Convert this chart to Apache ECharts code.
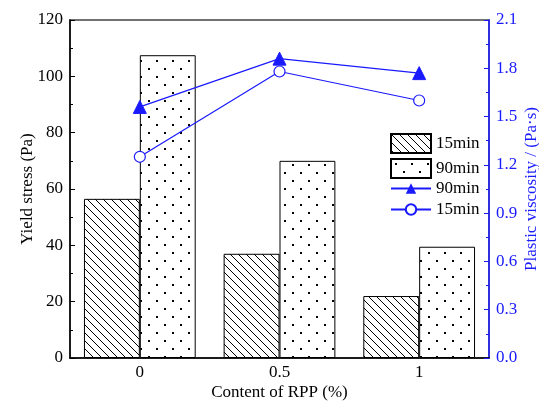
<!DOCTYPE html>
<html>
<head>
<meta charset="utf-8">
<script src="https://cdn.jsdelivr.net/npm/echarts@6/dist/echarts.min.js"></script>
<style>
  html, body { margin: 0; padding: 0; background: #fff; }
  #chart { width: 539px; height: 401px; }
</style>
</head>
<body>
<div id="chart"></div>
<script>
// RPP content categories and measured values
const categories = ['0', '0.5', '1'];
const yield15 = [56.5, 37, 22];
const yield90 = [107.5, 70, 39.5];
const visc90 = [1.56, 1.86, 1.77];
const visc15 = [1.25, 1.78, 1.60];

// fill patterns for the bars
function hatchPattern() {
  const c = document.createElement('canvas');
  c.width = 8; c.height = 8;
  const g = c.getContext('2d');
  g.fillStyle = '#fff'; g.fillRect(0, 0, 8, 8);
  g.strokeStyle = '#000'; g.lineWidth = 1;
  g.beginPath();
  g.moveTo(-1, -1); g.lineTo(9, 9);
  g.moveTo(-5, 3); g.lineTo(5, 13);
  g.moveTo(3, -5); g.lineTo(13, 5);
  g.stroke();
  return c;
}
function dotPattern() {
  const c = document.createElement('canvas');
  c.width = 16; c.height = 16;
  const g = c.getContext('2d');
  g.fillStyle = '#fff'; g.fillRect(0, 0, 16, 16);
  g.fillStyle = '#000';
  g.fillRect(4, 4, 2, 2);
  g.fillRect(12, 12, 2, 2);
  return c;
}

const serif = '"Liberation Serif", "Times New Roman", serif';
const blue = '#1a1aff';
const fs = 17;
const labels = { bar15: '15min', bar90: '90min', line90: '90min', line15: '15min' };
const legendText = { fontFamily: serif, fontSize: fs, color: '#000' };

const chart = echarts.init(document.getElementById('chart'));
chart.setOption({
  animation: false,
  textStyle: { fontFamily: serif },
  grid: {
    left: 70, right: 50, top: 20, bottom: 43,
    outerBoundsMode: 'none', containLabel: false,
    show: true, borderColor: '#444', borderWidth: 1.5
  },
  legend: [{
    orient: 'vertical', left: 390, top: 133,
    itemWidth: 40, itemHeight: 19, itemGap: 4, padding: 0,
    textStyle: legendText, formatter: n => labels[n],
    data: [{ name: 'bar15', icon: 'rect' }, { name: 'bar90', icon: 'rect' }]
  }, {
    orient: 'vertical', left: 390, top: 180,
    itemWidth: 40, itemHeight: 13, itemGap: 4, padding: 0,
    textStyle: legendText, formatter: n => labels[n],
    data: ['line90', 'line15']
  }],
  xAxis: {
    type: 'category', data: categories,
    name: 'Content of RPP (%)', nameLocation: 'middle', nameGap: 26, nameMoveOverlap: false,
    nameTextStyle: { fontSize: fs, color: '#000', fontFamily: serif },
    axisLine: { lineStyle: { color: '#000', width: 1.5 } },
    axisTick: { inside: true, length: 4, lineStyle: { color: '#000' } },
    axisLabel: { fontSize: fs, color: '#000', fontFamily: serif, margin: 6 }
  },
  yAxis: [{
    type: 'value', min: 0, max: 120, interval: 20,
    name: 'Yield stress (Pa)', nameLocation: 'middle', nameGap: 34, nameMoveOverlap: false,
    nameTextStyle: { fontSize: fs, color: '#000', fontFamily: serif },
    axisLine: { show: true, lineStyle: { color: '#000', width: 1.5 } },
    axisTick: { show: true, inside: true, length: 5, lineStyle: { color: '#000' } },
    minorTick: { show: true, splitNumber: 2, length: 3, lineStyle: { color: '#000' } },
    splitLine: { show: false },
    axisLabel: { fontSize: fs, color: '#000', fontFamily: serif, margin: 7 }
  }, {
    type: 'value', min: 0, max: 2.1, interval: 0.3, position: 'right',
    name: 'Plastic viscosity / (Pa·s)', nameLocation: 'middle', nameGap: 34, nameMoveOverlap: false,
    nameTextStyle: { fontSize: fs, color: blue, fontFamily: serif },
    axisLine: { show: true, lineStyle: { color: blue, width: 1.5 } },
    axisTick: { show: true, inside: true, length: 5, lineStyle: { color: blue } },
    minorTick: { show: true, splitNumber: 2, length: 3, lineStyle: { color: blue } },
    splitLine: { show: false },
    axisLabel: { fontSize: fs, color: blue, fontFamily: serif, margin: 7,
      formatter: v => v.toFixed(1) }
  }],
  series: [{
    name: 'bar15', type: 'bar', data: yield15, barWidth: '40%', barGap: '0%',
    itemStyle: { color: { image: hatchPattern(), repeat: 'repeat' }, borderColor: '#000', borderWidth: 1 }
  }, {
    name: 'bar90', type: 'bar', data: yield90, barWidth: '40%', barGap: '0%',
    itemStyle: { color: { image: dotPattern(), repeat: 'repeat' }, borderColor: '#000', borderWidth: 1 }
  }, {
    name: 'line90', type: 'line', yAxisIndex: 1, data: visc90,
    symbol: 'triangle', symbolSize: 13,
    lineStyle: { color: blue, width: 1.2 },
    itemStyle: { color: blue, borderColor: blue }
  }, {
    name: 'line15', type: 'line', yAxisIndex: 1, data: visc15,
    symbol: 'circle', symbolSize: 11,
    lineStyle: { color: blue, width: 1.2 },
    itemStyle: { color: '#fff', borderColor: blue, borderWidth: 1.2 }
  }]
});
</script>
</body>
</html>
